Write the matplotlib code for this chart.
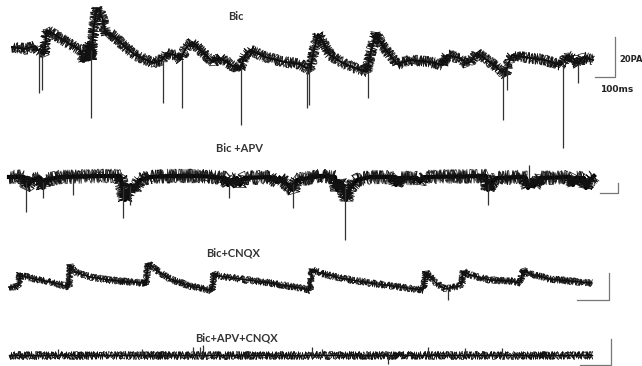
import numpy as np
import matplotlib.pyplot as plt

# time in ms, current in pA (relative to each trace's resting level)
bic_t = [10, 75, 125, 140, 170, 185, 210, 250, 300, 350, 370, 385, 395, 405, 420, 435, 450, 465,
         480, 500, 550, 625, 715, 760, 780, 825, 850, 880, 910, 950, 1015, 1050, 1115, 1150,
         1175, 1200, 1275, 1375, 1450, 1480, 1500, 1520, 1540, 1560, 1600, 1665, 1750, 1785,
         1800, 1830, 1860, 1935, 2000, 2100, 2165, 2185, 2250, 2285, 2300, 2335, 2400, 2450,
         2475, 2495, 2510, 2600, 2675, 2750, 2765, 2785, 2815, 2840, 2865, 2915]
bic_i = [6.5, 5.5, 7, 5, 2.5, 15, 13.5, 11, 8, 5, -1, 5, 8, 0, 17.5, 26, 24, 20,
         12.5, 13.5, 9, 2.5, -1.5, 0, 3.5, 2.5, 0, 6, 9, 5, -1, 1, -3, -5,
         2.5, 5, 1.5, -1, -2, -4, -5, 5, 13, 10, 2.5, -1.5, -5, -6,
         2.5, 13.5, 7.5, -2, 0, -1, -2.5, 2.5, 1, -2, -1, 3.5, -1, -5,
         -7.5, -1, 2.5, 1, 0, -2.5, -1.5, 2.5, 1, -2.5, 1.5, 0]
bic_spk_t = [145, 160, 405, 765, 860, 1155, 1485, 1495, 1790, 2465, 2485, 2765, 2840]
bic_spk_top = [5, 3, 5, 0, 0, -4, -4, -4, -5, -6, -4, 0, -2]
bic_spk_bot = [-16.5, -15, -29, -21.5, -24, -32.5, -24, -22.5, -19, -30, -15, -44, -11.5]

apv_t = [-5, 70, 80, 90, 110, 150, 165, 180, 250, 450, 550, 560, 575, 590, 605, 620, 650, 700,
         800, 950, 1075, 1090, 1110, 1135, 1150, 1170, 1300, 1335, 1350, 1390, 1415, 1435, 1550,
         1625, 1635, 1650, 1665, 1680, 1700, 1735, 1800, 1920, 1930, 1950, 2035, 2050, 2075,
         2380, 2390, 2410, 2435, 2550, 2580, 2590, 2605, 2620, 2650, 2800, 2815, 2830, 2870,
         2880, 2900, 2920]
apv_i = [0.5, 0.5, -4, -3.5, -1, 0, -5, -1, 0.5, 1, 1, -3.5, -11, -8.5, -3.5, -6, -1, 0.5,
         1, 1, 0, -3.5, -1, 0, -3.5, 0, 0.5, -2, 0, -3.5, -6, -1, 1,
         0.5, -6, -2, -3.5, -11, -5, -1, 0.5, 0.5, -3.5, 0, 0, -2, 0.5,
         1, -6, -2, 0, 0.5, 0, -5, -1, -4, 0, 0.5, -3.5, 0, 0,
         -5, -1, 1]
apv_spk_t = [80, 165, 315, 565, 600, 1095, 1415, 1675, 2390, 2595]
apv_spk_top = [-2, -2, 0, -4, -4, -3, -3, -4, -3, 6.5]
apv_spk_bot = [-17, -10, -8.5, -20, -13.5, -10, -15, -31, -13.5, -2]

cnqx_t = [-5, 40, 50, 65, 125, 200, 280, 295, 300, 325, 400, 500, 600, 675, 680, 690, 725, 800,
          900, 1000, 1010, 1020, 1050, 1150, 1300, 1450, 1500, 1510, 1550, 1650, 1800, 1950,
          2065, 2080, 2125, 2175, 2250, 2260, 2265, 2300, 2400, 2500, 2550, 2565, 2600, 2700,
          2800, 2910]
cnqx_i = [0, 0, 7, 5.5, 4, 2.5, 0.5, 0, 11, 7.5, 5, 3.5, 2.5, 2, 1, 12, 9, 4,
          0.5, -1.5, -2, 7, 5.5, 4, 2, -0.5, -1.5, 9, 7, 4.5, 2, 0,
          -1.5, 7.5, 2.5, -1, 0.5, 1.5, 8, 6, 3.5, 3, 2, 8.5, 6.5, 4,
          3, 2]
cnqx_spk_t = [2190]
cnqx_spk_top = [-0.5]
cnqx_spk_bot = [-6.5]

all_t = [-5, 500, 1000, 1500, 2000, 2500, 2910]
all_i = [0, 0, 0, 0, 0, 0, 0]
all_spk_t = [240, 660, 915, 950, 965, 1510, 1560, 1890, 2090, 2275, 2460]
all_spk_top = [3, 3, 4, 4, 5, 4, 3, 0, 4, 3.5, 3.5]
all_spk_bot = [0, 0, 0, 0, 0, 0, 0, -4.5, 0, 0, 0]

labels = ['Bic', 'Bic +APV', 'Bic+CNQX', 'Bic+APV+CNQX']
offsets = [-30, -89, -143.5, -177.5]
label_y = [-8.5, -74, -126.5, -169]
label_x = [1130, 1150, 1115, 1130]

# drawing style per trace: core width (pt), noise amplitude for the sketch overlays
core = [1.4, 3.0, 1.0, 1.0]
noise = [5.5, 7, 3.5, 4]
overlays = [(0.5, 4), (0.7, 6), (0.9, 3), (0.6, 8)]

# scale bars: (t_left, t_right, i_bottom, i_top) relative to trace
bars = [(2925, 3025, -8.5, 11.5), (2950, 3040, -7.5, -2.5),
        (2835, 2995, -6.5, 7), (2850, 3005, -5, 8)]

traces = [(bic_t, bic_i, bic_spk_t, bic_spk_top, bic_spk_bot),
          (apv_t, apv_i, apv_spk_t, apv_spk_top, apv_spk_bot),
          (cnqx_t, cnqx_i, cnqx_spk_t, cnqx_spk_top, cnqx_spk_bot),
          (all_t, all_i, all_spk_t, all_spk_top, all_spk_bot)]

fig = plt.figure(figsize=(6.42, 3.66), dpi=100)
ax = fig.add_axes([0, 0, 1, 1])
ax.set_xlim(-50, 3160)
ax.set_ylim(-183, 0)
ax.axis('off')

for k, (t, i, st, stop, sbot) in enumerate(traces):
    off = offsets[k]
    y = np.array(i) + off
    ax.plot(t, y, color='black', lw=core[k], solid_joinstyle='round')
    for length, rnd in overlays:
        ln, = ax.plot(t, y, color='#111111', lw=0.5)
        ln.set_sketch_params(scale=noise[k], length=length, randomness=rnd)
    ax.vlines(st, np.array(sbot) + off, np.array(stop) + off, color='#333333', lw=0.9)
    t0, t1, b0, b1 = bars[k]
    ax.plot([t0, t1, t1], [b0 + off, b0 + off, b1 + off], color='#777777', lw=0.9)
    ax.text(label_x[k], label_y[k], labels[k], ha='center', va='center',
            fontsize=8, fontweight='bold', family='Lato', color='#333333')

ax.text(3045, offsets[0], '20PA', ha='left', va='center', fontsize=6,
        fontweight='bold', family='DejaVu Sans', color='#222222')
ax.text(3035, offsets[0] - 15, '100ms', ha='center', va='center', fontsize=6.5,
        fontweight='bold', family='DejaVu Sans', color='#222222')

fig.savefig('out.png', dpi=100)
